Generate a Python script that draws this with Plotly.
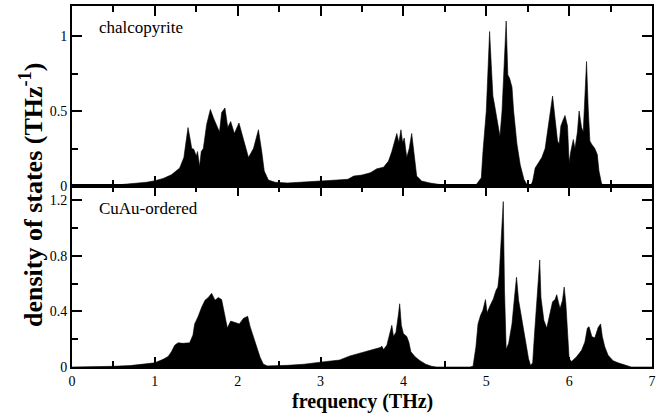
import plotly.graph_objects as go

# Chalcopyrite phonon DOS
freq_chalco = [0, 0.25, 0.4, 0.6, 0.8, 0.9, 1.0, 1.1, 1.2, 1.3, 1.35, 1.38, 1.40, 1.43, 1.445, 1.47,
               1.50, 1.515, 1.54, 1.56, 1.585, 1.625, 1.67, 1.71, 1.75, 1.78, 1.806, 1.846, 1.88,
               1.915, 1.96, 2.015, 2.07, 2.13, 2.19, 2.25, 2.29, 2.32, 2.37, 2.45, 2.6, 2.8, 3.0,
               3.2, 3.33, 3.40, 3.5, 3.6, 3.68, 3.76, 3.82, 3.86, 3.90, 3.92, 3.945, 3.97, 3.99,
               4.01, 4.04, 4.07, 4.10, 4.13, 4.16, 4.22, 4.32, 4.44, 4.5, 4.8, 4.88, 4.94, 4.96,
               5.0, 5.015, 5.04, 5.06, 5.08, 5.10, 5.13, 5.165, 5.19, 5.21, 5.24, 5.26, 5.28, 5.31,
               5.33, 5.37, 5.41, 5.455, 5.495, 5.535, 5.56, 5.59, 5.63, 5.67, 5.71, 5.75, 5.78,
               5.80, 5.83, 5.86, 5.88, 5.90, 5.92, 5.95, 5.98, 6.0, 6.02, 6.05, 6.07, 6.10, 6.12,
               6.15, 6.17, 6.19, 6.21, 6.23, 6.25, 6.27, 6.31, 6.34, 6.36, 6.39, 6.41, 7.0]
dos_chalco = [0, 0, 0.004, 0.01, 0.018, 0.025, 0.035, 0.05, 0.075, 0.12, 0.19, 0.3, 0.39, 0.3, 0.25, 0.245,
              0.20, 0.23, 0.13, 0.23, 0.25, 0.41, 0.51, 0.45, 0.40, 0.36, 0.49, 0.52, 0.39,
              0.43, 0.35, 0.42, 0.31, 0.19, 0.25, 0.375, 0.23, 0.10, 0.04, 0.025, 0.02, 0.025, 0.03,
              0.04, 0.045, 0.066, 0.073, 0.088, 0.115, 0.125, 0.166, 0.23, 0.31, 0.35, 0.29, 0.375, 0.29,
              0.32, 0.19, 0.25, 0.35, 0.21, 0.066, 0.033, 0.02, 0.01, 0.002, 0, 0.01, 0.055, 0.23,
              0.50, 0.72, 1.03, 0.81, 0.60, 0.54, 0.45, 0.33, 0.50, 0.72, 1.10, 0.74, 0.72, 0.66,
              0.50, 0.28, 0.14, 0.044, 0.005, 0, 0.033, 0.12, 0.155, 0.19, 0.25, 0.41, 0.54,
              0.60, 0.45, 0.30, 0.28, 0.40, 0.43, 0.47, 0.40, 0.155, 0.23, 0.31, 0.25, 0.36, 0.50,
              0.39, 0.36, 0.63, 0.83, 0.52, 0.30, 0.28, 0.25, 0.21, 0.10, 0.02, 0, 0]

# CuAu-ordered phonon DOS
freq_cuau = [0, 0.3, 0.5, 0.7, 0.9, 1.0, 1.10, 1.16, 1.20, 1.24, 1.28, 1.34, 1.42, 1.46, 1.48, 1.52,
             1.565, 1.605, 1.645, 1.685, 1.726, 1.766, 1.806, 1.846, 1.875, 1.915, 1.967, 2.02,
             2.07, 2.12, 2.15, 2.19, 2.23, 2.27, 2.31, 2.36, 2.6, 2.8, 3.0, 3.23, 3.355, 3.476,
             3.60, 3.72, 3.74, 3.76, 3.80, 3.83, 3.86, 3.88, 3.91, 3.94, 3.955, 3.975, 4.0, 4.04,
             4.065, 4.09, 4.14, 4.20, 4.27, 4.34, 4.40, 4.80, 4.84, 4.875, 4.90, 4.93, 4.96, 4.99,
             5.01, 5.045, 5.085, 5.117, 5.14, 5.157, 5.18, 5.205, 5.22, 5.24, 5.27, 5.31, 5.34,
             5.365, 5.39, 5.43, 5.47, 5.51, 5.535, 5.56, 5.58, 5.61, 5.63, 5.645, 5.66, 5.695,
             5.73, 5.76, 5.80, 5.83, 5.85, 5.87, 5.89, 5.92, 5.94, 5.96, 5.98, 6.00, 6.03, 6.09,
             6.15, 6.19, 6.22, 6.24, 6.275, 6.31, 6.35, 6.38, 6.40, 6.43, 6.47, 6.53, 6.59, 6.65,
             6.71, 6.75, 7.0]
dos_cuau = [0, 0, 0.005, 0.01, 0.02, 0.03, 0.055, 0.075, 0.11, 0.157, 0.174, 0.17, 0.174, 0.23, 0.31, 0.36,
            0.43, 0.48, 0.50, 0.53, 0.48, 0.50, 0.485, 0.38, 0.28, 0.33, 0.32, 0.31,
            0.35, 0.365, 0.29, 0.22, 0.145, 0.07, 0.02, 0.008, 0.012, 0.02, 0.035, 0.05, 0.08, 0.1,
            0.117, 0.14, 0.15, 0.125, 0.157, 0.23, 0.30, 0.22, 0.25, 0.38, 0.455, 0.30, 0.24, 0.22,
            0.18, 0.11, 0.074, 0.045, 0.02, 0.005, 0, 0, 0.005, 0.145, 0.31, 0.37, 0.41, 0.485,
            0.39, 0.44, 0.49, 0.55, 0.575, 0.67, 0.96, 1.19, 0.55, 0.127, 0.17, 0.31, 0.50,
            0.646, 0.48, 0.33, 0.19, 0.06, 0.01, 0.03, 0.22, 0.48, 0.67, 0.77, 0.50, 0.336,
            0.28, 0.36, 0.47, 0.485, 0.52, 0.47, 0.42, 0.48, 0.575, 0.46, 0.265, 0.06, 0.04, 0.074,
            0.12, 0.18, 0.28, 0.29, 0.217, 0.21, 0.284, 0.31, 0.22, 0.145, 0.085, 0.045, 0.03, 0.02,
            0.008, 0, 0]

x_ticks = [0, 1, 2, 3, 4, 5, 6, 7]
top_yticks = [0, 0.5, 1]
top_ytick_labels = ["0", "0.5", "1"]
bot_yticks = [0, 0.4, 0.8, 1.2]
bot_ytick_labels = ["0", "0.4", "0.8", "1.2"]
panel_labels = ["chalcopyrite", "CuAu-ordered"]

FONT = "Liberation Serif, Times New Roman, serif"

fig = go.Figure()
fig.add_trace(go.Scatter(x=freq_cuau, y=dos_cuau, mode="lines", fill="tozeroy",
                         line=dict(color="black", width=0.6), fillcolor="black",
                         xaxis="x", yaxis="y", showlegend=False, hoverinfo="skip"))
fig.add_trace(go.Scatter(x=freq_chalco, y=dos_chalco, mode="lines", fill="tozeroy",
                         line=dict(color="black", width=0.6), fillcolor="black",
                         xaxis="x2", yaxis="y2", showlegend=False, hoverinfo="skip"))

split = 182 / 363

common = dict(showline=True, linecolor="black", linewidth=2, mirror="ticks",
              ticks="inside", ticklen=10, tickwidth=1.5, tickcolor="black",
              showgrid=False, zeroline=False,
              tickfont=dict(family=FONT, size=14, color="black"))

fig.update_layout(
    width=669, height=413,
    margin=dict(l=72, r=17, t=4, b=46),
    plot_bgcolor="white", paper_bgcolor="white",
    xaxis=dict(range=[0, 7], tickvals=x_ticks, anchor="y", domain=[0, 1],
               minor=dict(dtick=0.5, tick0=0, ticks="inside", ticklen=6, tickwidth=1.5, tickcolor="black"),
               **common),
    xaxis2=dict(range=[0, 7], tickvals=x_ticks, anchor="y2", matches="x", showticklabels=False,
                minor=dict(dtick=0.5, tick0=0, ticks="inside", ticklen=6, tickwidth=1.5, tickcolor="black"),
                **common),
    yaxis=dict(range=[0, 1.302], domain=[0, split], anchor="x",
               tickvals=bot_yticks, ticktext=bot_ytick_labels,
               minor=dict(dtick=0.2, tick0=0, ticks="inside", ticklen=6, tickwidth=1.5, tickcolor="black"),
               **common),
    yaxis2=dict(range=[0, 1.2], domain=[split, 1], anchor="x2",
                tickvals=top_yticks, ticktext=top_ytick_labels,
                minor=dict(dtick=0.25, tick0=0, ticks="inside", ticklen=6, tickwidth=1.5, tickcolor="black"),
                **common),
)

fig.add_annotation(text=panel_labels[0], xref="x2", yref="y2", x=0.3, y=1.06,
                   xanchor="left", yanchor="middle", showarrow=False,
                   font=dict(family=FONT, size=17, color="black"))
fig.add_annotation(text=panel_labels[1], xref="x", yref="y", x=0.3, y=1.14,
                   xanchor="left", yanchor="middle", showarrow=False,
                   font=dict(family=FONT, size=17, color="black"))

fig.add_annotation(text="<b>frequency (THz)</b>", xref="paper", yref="paper",
                   x=0.5, y=-35 / 363, xanchor="center", yanchor="middle", showarrow=False,
                   font=dict(family=FONT, size=20, color="black"))
fig.add_annotation(text="<b>density of states (THz<sup>-1</sup>)</b>", xref="paper", yref="paper",
                   x=-40 / 580, y=(363 - 194 + 4) / 363, xanchor="center", yanchor="middle",
                   textangle=-90, showarrow=False,
                   font=dict(family=FONT, size=26, color="black"))

fig.write_html("out.html", config={"displayModeBar": False},
               post_script="document.body.style.margin='0';")
